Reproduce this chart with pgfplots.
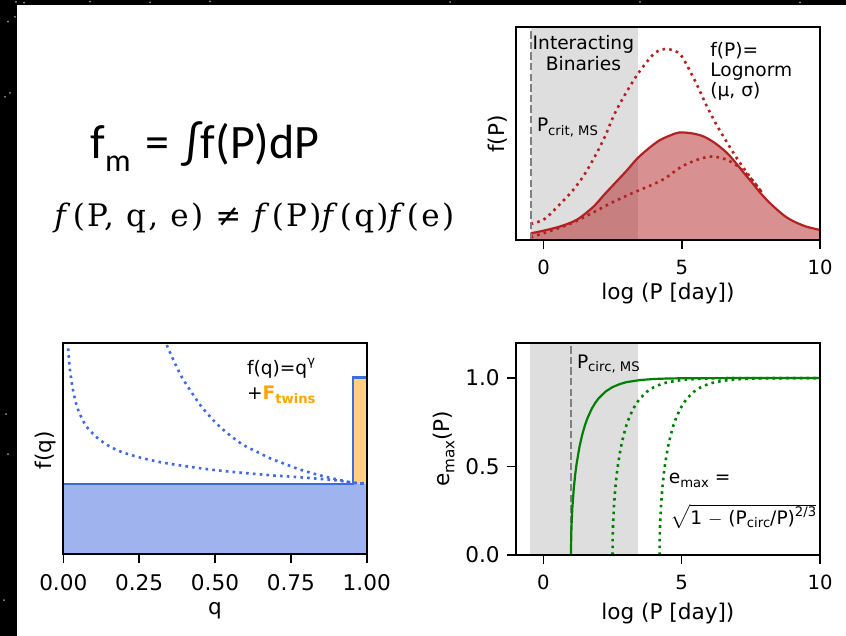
\documentclass[border=0pt]{standalone}
\usepackage{fontspec}
\setmainfont{DejaVu Sans}
\newfontfamily\carlito{Carlito}
\newfontfamily\cambria[LetterSpace=7.5]{DejaVu Serif}
\usepackage{pgfplots}
\pgfplotsset{compat=1.18}
\definecolor{firebrick}{HTML}{B22222}
\definecolor{royal}{HTML}{4169E1}
\definecolor{mplorange}{HTML}{FFA500}
\definecolor{mplgreen}{HTML}{008000}
\definecolor{band}{HTML}{DEDEDE}
\newcommand\fA{\fontsize{9.3}{10.3}\selectfont}
\newcommand\fS{\fontsize{6.6}{7}\selectfont}
\newcommand\fL{\fontsize{10.8}{12}\selectfont}
\newcommand\sub[1]{\raisebox{-0.35ex}{\fS #1}}
\pgfplotsset{
  panel/.style={
    scale only axis,
    axis on top,
    clip mode=individual,
    axis line style={line width=0.9pt},
    tick align=outside,
    major tick length=4.5pt,
    tick style={black, line width=0.8pt},
    xtick pos=left, ytick pos=left,
    tick label style={font=\fontsize{9.8}{11}\selectfont},
    xticklabel style={yshift=-2pt},
  },
  dots/.style={line width=1.3pt, line cap=butt, dash pattern=on 1.3pt off 2.1pt},
  vdash/.style={gray, line width=1pt, dash pattern=on 3.7pt off 1.6pt},
}
\begin{document}
\begin{tikzpicture}
\fill[black] (0pt,0pt) rectangle (423pt,-318pt);
\fill[white] (8.5pt,-2.5pt) rectangle (423pt,-318pt);
\foreach \sx/\sy in {8/0.9,12/1.3,7.5/8.5,4/10.8,5/46.5,2.5/48.5,3/207,4/227,2/300,45/0.8,75/1.2,105/0.7,225/1,320/0.9,400/1.2}
  \fill[white!60!black] (\sx pt,-\sy pt) circle (0.5pt);
% formulas
\node[anchor=base west, inner sep=0pt, font=\carlito\fontsize{24}{28}\selectfont] at (45pt,-79.2pt)
  {f\raisebox{-0.28em}{\fontsize{16}{17}\selectfont m}\hspace{0.3em}=\hspace{0.3em}∫f(P)dP};
\node[anchor=base west, inner sep=0pt, font=\cambria\fontsize{15.5}{18}\selectfont] at (27pt,-113.3pt)
  {\textit{f}(P, q, e) ≠ \textit{f}(P)\textit{f}(q)\textit{f}(e)};

% ---------------- top right: f(P)
\begin{axis}[panel, at={(258pt,-120pt)}, anchor=south west,
  width=152pt, height=106.5pt,
  xmin=-1, xmax=10, ymin=0, ymax=1,
  xtick={0,5,10}, xticklabels={0,5,10}, ytick=\empty]
\addplot[draw=none, fill=band] coordinates {(-0.47,0) (-0.47,1) (3.4,1) (3.4,0)};
\addplot[draw=none, fill=firebrick, fill opacity=0.5, smooth] coordinates {
(-0.47,0.031) (0,0.044) (0.58,0.063) (1.2,0.095) (1.79,0.155) (2.2,0.214) (2.64,0.275) (3.0,0.325) (3.39,0.383) (3.8,0.43) (4.22,0.47) (4.76,0.5) (5.0,0.505) (5.4,0.5) (5.79,0.486) (6.2,0.455) (6.64,0.408) (7.0,0.355) (7.25,0.314) (7.55,0.268) (7.85,0.22) (8.15,0.178) (8.46,0.141) (8.75,0.11) (9.07,0.086) (9.5,0.063) (10,0.047)} \closedcycle;
\addplot[firebrick, line width=1.1pt, smooth] coordinates {
(-0.47,0.031) (0,0.044) (0.58,0.063) (1.2,0.095) (1.79,0.155) (2.2,0.214) (2.64,0.275) (3.0,0.325) (3.39,0.383) (3.8,0.43) (4.22,0.47) (4.76,0.5) (5.0,0.505) (5.4,0.5) (5.79,0.486) (6.2,0.455) (6.64,0.408) (7.0,0.355) (7.25,0.314) (7.55,0.268) (7.85,0.22) (8.15,0.178) (8.46,0.141) (8.75,0.11) (9.07,0.086) (9.5,0.063) (10,0.047)};
\addplot[firebrick, dots, smooth] coordinates {
(-0.47,0.075) (0.04,0.099) (0.64,0.175) (1.07,0.235) (1.49,0.31) (1.92,0.408) (2.22,0.486) (2.58,0.596) (3.01,0.697) (3.43,0.784) (3.92,0.865) (4.15,0.888) (4.4,0.897) (4.7,0.89) (5.0,0.862) (5.49,0.744) (5.85,0.643) (6.22,0.549) (6.58,0.47) (6.95,0.392) (7.31,0.324) (7.67,0.262) (7.9,0.222)};
\addplot[firebrick, dots, smooth] coordinates {
(-0.47,0.013) (0.16,0.039) (1.0,0.078) (1.73,0.125) (2.46,0.175) (3.19,0.219) (3.92,0.259) (4.4,0.29) (5.0,0.345) (5.61,0.379) (6.1,0.392) (6.58,0.379) (6.95,0.353) (7.31,0.314) (7.67,0.262) (7.9,0.222)};
\addplot[vdash] coordinates {(-0.47,0) (-0.47,1)};
\node[font=\fL] at (axis description cs:0.5,-0.25) {log (P [day])};
\node[font=\fL, rotate=90] at (axis description cs:-0.061,0.498) {f(P)};
\end{axis}
\node[align=center, font=\fA] at (291.7pt,-26.5pt) {Interacting\\Binaries};
\node[anchor=base west, inner sep=0pt, font=\fA] at (268.3pt,-65.8pt) {P\sub{crit, MS}};
\node[anchor=west, inner sep=0pt, align=left, font=\fontsize{9.3}{10}\selectfont] at (355pt,-35.85pt) {f(P)=\\Lognorm\\(μ, σ)};

% ---------------- bottom left: f(q)
\begin{axis}[panel, at={(31.65pt,-277.15pt)}, anchor=south west,
  width=151.7pt, height=105.8pt,
  xmin=0, xmax=1, ymin=0, ymax=1,
  xtick={0,0.25,0.5,0.75,1}, xticklabels={0.00,0.25,0.50,0.75,1.00}, ytick=\empty,
  tick label style={font=\fL}]
\addplot[draw=none, fill=royal, fill opacity=0.5] coordinates {(0,0) (0,0.332) (1,0.332) (1,0)};
\addplot[draw=none, fill=mplorange, fill opacity=0.5] coordinates {(0.954,0.332) (0.954,0.835) (1,0.835) (1,0.332)};
\addplot[royal, dots, smooth] coordinates {
(0.016,0.973) (0.022,0.871) (0.033,0.769) (0.049,0.682) (0.077,0.603) (0.121,0.54) (0.176,0.493) (0.251,0.458) (0.341,0.43) (0.5,0.398) (0.67,0.375) (0.751,0.367) (0.89,0.351) (0.951,0.339) (1.0,0.335)};
\addplot[royal, dots, smooth] coordinates {
(0.341,0.989) (0.363,0.918) (0.39,0.839) (0.418,0.776) (0.451,0.706) (0.484,0.65) (0.516,0.603) (0.555,0.556) (0.593,0.517) (0.637,0.485) (0.681,0.454) (0.725,0.43) (0.769,0.406) (0.813,0.386) (0.863,0.367) (0.912,0.351) (0.951,0.339) (1.0,0.332)};
\addplot[royal, line width=1.2pt] coordinates {(0,0.332) (0.954,0.332) (0.954,0.835) (1.0,0.835)};
\node[font=\fL] at (axis description cs:0.5,-0.266) {q};
\node[font=\fL, rotate=90] at (axis description cs:-0.06,0.493) {f(q)};
\end{axis}
\node[anchor=west, inner sep=0pt, font=\fA] at (123.3pt,-184.2pt) {f(q)=q\raisebox{0.9ex}{\fS γ}};
\node[anchor=west, inner sep=0pt, font=\fA] at (123.3pt,-197.5pt) {+\textcolor{mplorange}{\textbf{F}\sub{\textbf{twins}}}};

% ---------------- bottom right: e_max(P)
\begin{axis}[panel, at={(257.85pt,-277.5pt)}, anchor=south west,
  width=152.15pt, height=106.15pt,
  xmin=-1, xmax=10, ymin=0, ymax=1.2,
  xtick={0,5,10}, xticklabels={0,5,10},
  ytick={0,0.5,1}, yticklabels={0.0,0.5,1.0},
  yticklabel style={font=\fL}]
\addplot[draw=none, fill=band] coordinates {(-0.48,0) (-0.48,1.2) (3.42,1.2) (3.42,0)};
\addplot[vdash] coordinates {(1.0,0) (1.0,1.2)};
\addplot[mplgreen, line width=1.1pt] coordinates {
(1.0,0) (1.002,0.0554) (1.005,0.0875) (1.01,0.123) (1.02,0.174) (1.05,0.272) (1.1,0.377) (1.15,0.4535) (1.2,0.514) (1.3,0.607) (1.4,0.677) (1.5,0.732) (1.6,0.7758) (1.75,0.827) (1.875,0.8597) (2.0,0.886) (2.25,0.924) (2.5,0.949) (2.75,0.9654) (3.0,0.977) (3.5,0.989) (4.0,0.995) (4.5,0.9977) (5.0,0.9989) (6.0,0.9998) (7.0,1.0) (8.0,1.0) (9.0,1.0) (10.0,1.0)};
\addplot[mplgreen, dots] coordinates {
(2.5,0) (2.502,0.0554) (2.505,0.0875) (2.51,0.123) (2.52,0.174) (2.55,0.272) (2.6,0.377) (2.65,0.4535) (2.7,0.514) (2.8,0.607) (2.9,0.677) (3.0,0.732) (3.1,0.7758) (3.25,0.827) (3.375,0.8597) (3.5,0.886) (3.75,0.924) (4.0,0.949) (4.25,0.9654) (4.5,0.977) (5.0,0.989) (5.5,0.995) (6.0,0.9977) (6.5,0.9989) (7.5,0.9998) (8.5,1.0) (10.0,1.0)};
\addplot[mplgreen, dots] coordinates {
(4.2,0) (4.202,0.0554) (4.205,0.0875) (4.21,0.123) (4.22,0.174) (4.25,0.272) (4.3,0.377) (4.35,0.4535) (4.4,0.514) (4.5,0.607) (4.6,0.677) (4.7,0.732) (4.8,0.7758) (4.95,0.827) (5.075,0.8597) (5.2,0.886) (5.45,0.924) (5.7,0.949) (5.95,0.9654) (6.2,0.977) (6.7,0.989) (7.2,0.995) (7.7,0.9977) (8.2,0.9989) (9.2,0.9998) (10.0,1.0)};
\node[font=\fL] at (axis description cs:0.5,-0.275) {log (P [day])};
\node[font=\fL, rotate=90] at (axis description cs:-0.236,0.5) {e\raisebox{-0.4ex}{\fontsize{7.6}{8}\selectfont max}(P)};
\end{axis}
\node[anchor=base west, inner sep=0pt, font=\fA] at (288.3pt,-184.2pt) {P\sub{circ, MS}};
\node[anchor=base west, inner sep=0pt, font=\fA] at (334.2pt,-241.8pt) {e\sub{max} =};
\node[anchor=base west, inner sep=0pt, font=\fA] at (335pt,-262.2pt) {$\sqrt{\mbox{1 $-$ (P\sub{circ}/P)\raisebox{0.75ex}{\fS 2/3}}}$};
\end{tikzpicture}
\end{document}
